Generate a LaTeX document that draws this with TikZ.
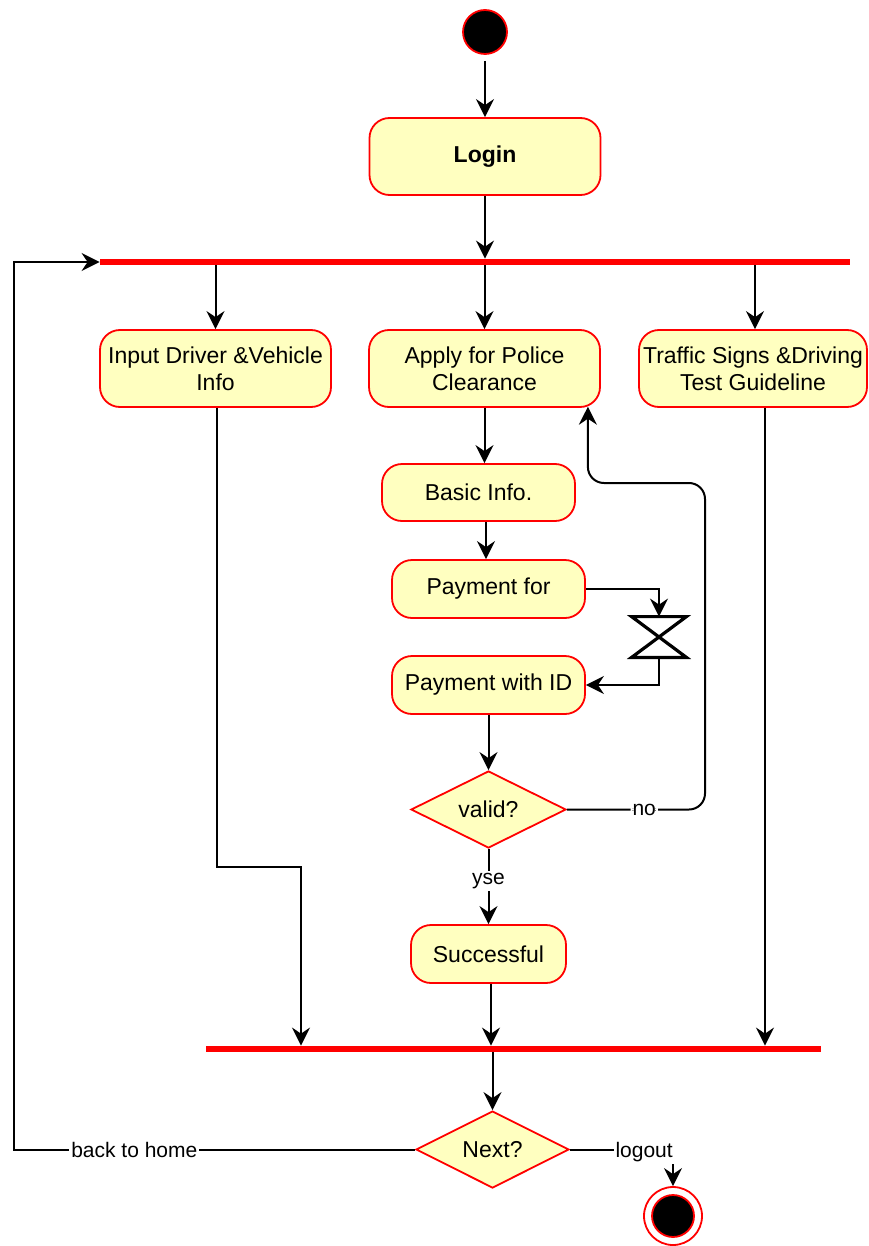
\documentclass[tikz,border=0pt]{standalone}
\usepackage{fontspec}
\setmainfont{Liberation Sans}
\usepackage{tikz}
\usetikzlibrary{shapes.geometric,arrows.meta,positioning,calc}

\definecolor{actfill}{HTML}{FFFFC0}
\definecolor{actline}{HTML}{FF0000}

\tikzset{
    action/.style={draw=actline, fill=actfill, line width=0.9pt, rounded corners=10pt,
        align=center, inner sep=0pt, font=\fontsize{11.5}{13.5}\selectfont},
    decision/.style={diamond, aspect=2, draw=actline, fill=actfill, line width=0.9pt,
        inner sep=0pt, font=\fontsize{11.5}{13.5}\selectfont},
    bar/.style={fill=actline, inner sep=0pt, minimum height=3pt},
    flow/.style={line width=1pt, -{Stealth[length=9pt,width=9pt,inset=3pt]}},
    lbl/.style={fill=white, inner sep=1pt, font=\fontsize{10.5}{12}\selectfont},
}

\begin{document}
\begin{tikzpicture}[x=0.5pt,y=-0.5pt]
    \useasboundingbox (0,0) rectangle (868,1246);

    % start and login
    \node [circle, fill=black, draw=actline, line width=0.9pt, minimum size=22pt, inner sep=0pt] (start) at (485,32) {};
    \node [action, font=\fontsize{11.5}{13.5}\selectfont\bfseries, minimum width=115.5pt, minimum height=38.5pt] (login) at (485,156.5) {Login};

    % fork bar
    \node [bar, minimum width=375pt] (fork) at (475,262) {};

    % three branches
    \node [action, minimum width=115.5pt, minimum height=38.5pt] (input) at (215.5,368.5) {Input Driver \&Vehicle\\Info};
    \node [action, minimum width=115.5pt, minimum height=38.5pt] (apply) at (484.5,368.5) {Apply for Police\\Clearance};
    \node [action, minimum width=114pt, minimum height=38.5pt] (traffic) at (753,368.5) {Traffic Signs \&Driving\\Test Guideline};

    % clearance steps
    \node [action, minimum width=96.5pt, minimum height=28.5pt] (basic) at (478.5,492.5) {Basic Info.};
    \node [action, minimum width=96.5pt, minimum height=29pt] (payfor) at (488.5,589) {Payment for};
    \node [minimum width=27pt, minimum height=20pt, inner sep=0pt] (hg) at (659,637) {};
    \draw [line width=1.6pt] (hg.north west) -- (hg.north east) -- (hg.south west) -- (hg.south east) -- cycle;
    \node [action, minimum width=96.5pt, minimum height=29pt] (payid) at (488.5,685) {Payment with ID};
    \node [decision, minimum width=77.5pt, minimum height=38.5pt] (valid) at (488.5,809.5) {valid?};
    \node [action, minimum width=77.5pt, minimum height=29pt] (success) at (488.5,954) {Successful};

    % join bar and exit
    \node [bar, minimum width=307.5pt] (join) at (513.5,1049) {};
    \node [decision, minimum width=76.5pt, minimum height=38.5pt] (next) at (492.5,1149.5) {Next?};
    \node [circle, fill=white, draw=actline, line width=0.9pt, minimum size=29pt, inner sep=0pt] (end) at (673,1216) {};
    \node [circle, fill=black, draw=actline, line width=0.9pt, minimum size=21pt, inner sep=0pt] (endcore) at (end) {};

    \coordinate (noturn) at (705,483);
    \coordinate (inturn) at (301,867);
    \coordinate (home) at (14,1149.5);

    % connectors
    \draw [flow, shorten <=3pt] (start.south) -- (start.south |- login.north);
    \draw [flow] (login.south) -- (login.south |- fork.north);
    \draw [flow] (input.north |- fork.south) -- (input.north);
    \draw [flow] (apply.north |- fork.south) -- (apply.north);
    \draw [flow] ([xshift=1pt]traffic.north |- fork.south) -- ([xshift=1pt]traffic.north);
    \draw [flow] (apply.south) -- (apply.south |- basic.north);
    \draw [flow] ([xshift=3.75pt]basic.south) -- ([xshift=3.75pt]basic.south |- payfor.north);
    \draw [flow] (payfor.east) -| (hg.north);
    \draw [flow] (hg.south) |- (payid.east);
    \draw [flow] (payid.south) -- (valid.north);
    \draw [flow, rounded corners=8pt] (valid.east) -| node [lbl, pos=0.28] {no} (noturn)
        -| ([xshift=-6.5pt,yshift=0.6pt]apply.south east);
    \draw [flow] (valid.south) -- node [lbl, pos=0.43] {yse} (success.north);
    \draw [flow] ([xshift=1.25pt]success.south) -- ([xshift=1.25pt]success.south |- join.north);
    \draw [flow] ([xshift=0.75pt]input.south) |- (inturn) -- (inturn |- join.north);
    \draw [flow] ([xshift=6pt]traffic.south) -- ([xshift=6pt]traffic.south |- join.north);
    \draw [flow] (next.north |- join.south) -- (next.north);
    \draw [flow] (next.west) -- node [lbl, pos=0.7] {back to home} (home) |- (fork.west);
    \draw [flow] (next.east) -| node [lbl, pos=0.36, yshift=-1.5pt] {logout} (end.north);
\end{tikzpicture}
\end{document}
